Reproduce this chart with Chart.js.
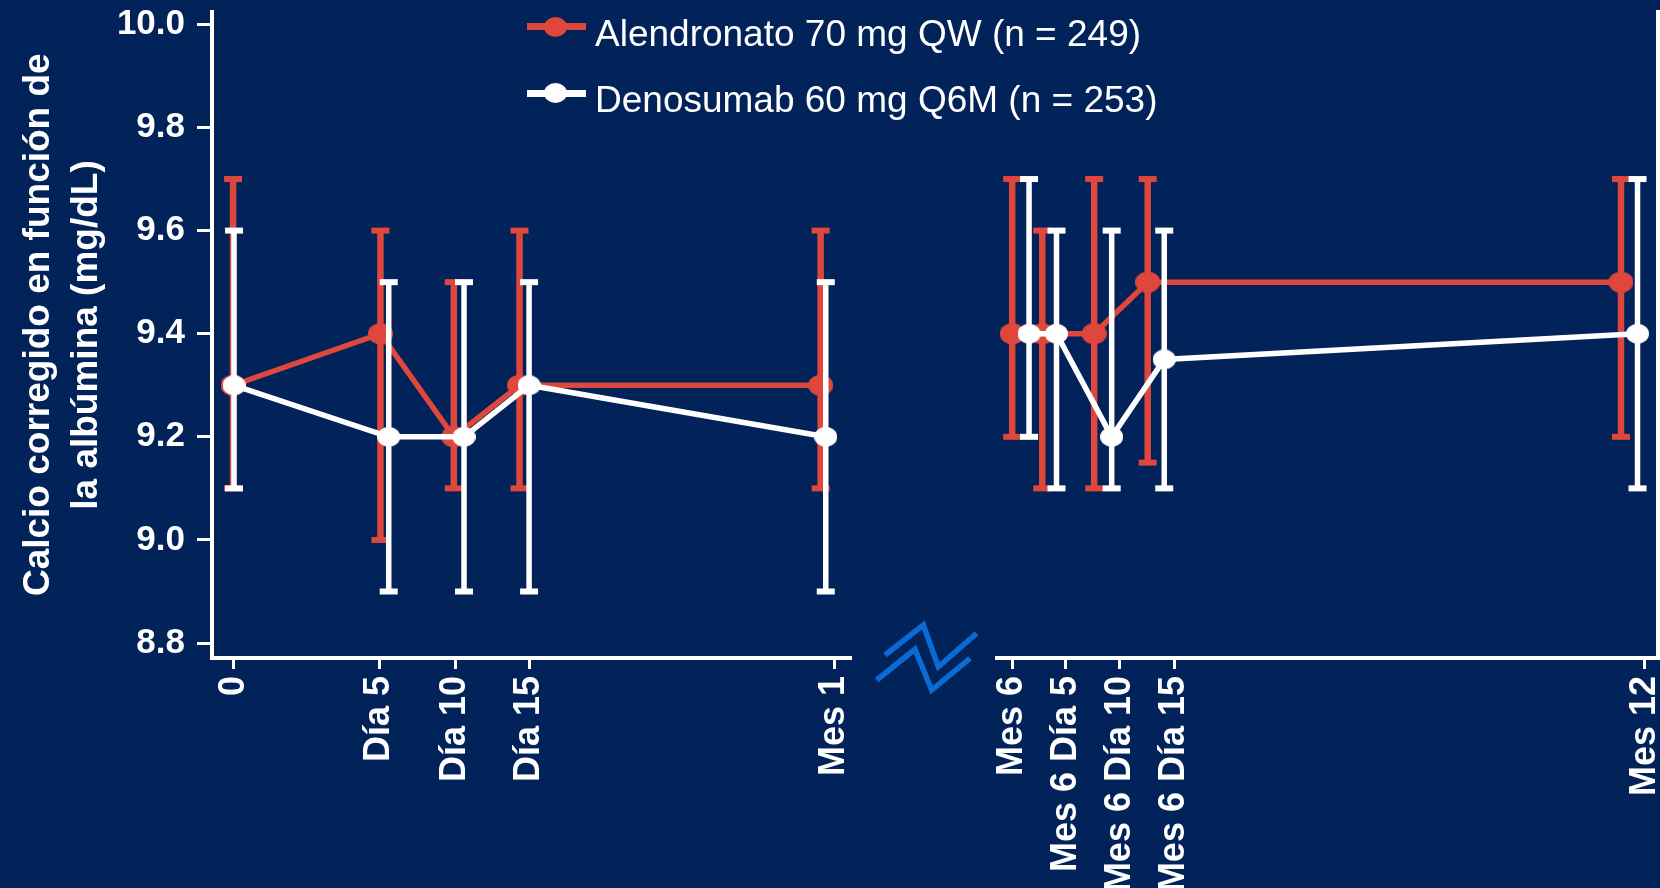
<!DOCTYPE html>
<html>
<head>
<meta charset="utf-8">
<title>Calcio corregido en función de la albúmina</title>
<script src="https://cdn.jsdelivr.net/npm/chart.js@4/dist/chart.umd.min.js"></script>
<style>
  html, body { margin: 0; padding: 0; background: #012359; width: 1660px; height: 888px; overflow: hidden; }
  #wrap { position: relative; width: 1660px; height: 888px; }
  #left { position: absolute; left: 0; top: 0; }
  #right { position: absolute; left: 990px; top: 0; }
  .lg-line { position: absolute; height: 7px; width: 59px; left: 527px; }
  .lg-dot { position: absolute; width: 23px; height: 20px; border-radius: 50%; left: 544px; }
  .lg-text { position: absolute; left: 595px; font-family: 'Liberation Sans', Arial, Helvetica, sans-serif;
             font-size: 37px; line-height: 40px; color: #ffffff; white-space: nowrap; }
</style>
</head>
<body>
<div id="wrap">
  <canvas id="left" width="990" height="888"></canvas>
  <canvas id="right" width="670" height="888"></canvas>

  <div class="lg-line" style="top:23px;background:#df473c"></div>
  <div class="lg-dot" style="top:17px;background:#df473c"></div>
  <div class="lg-text" style="top:14px">Alendronato 70 mg QW (n = 249)</div>

  <div class="lg-line" style="top:90px;background:#ffffff"></div>
  <div class="lg-dot" style="top:83px;background:#ffffff"></div>
  <div class="lg-text" style="top:80px">Denosumab 60 mg Q6M (n = 253)</div>
</div>

<script>
// ---- axis ticks ----
const yTickValues = [8.8, 9.0, 9.2, 9.4, 9.6, 9.8, 10.0];

const leftTickPos = [3.4, 26.2, 38.1, 49.7, 97.5];
const leftTickLabels = ['0', 'Día 5', 'Día 10', 'Día 15', 'Mes 1'];
const rightTickPos = [2.3, 10.4, 18.6, 26.8, 98.0];
const rightTickLabels = ['Mes 6', 'Mes 6 Día 5', 'Mes 6 Día 10', 'Mes 6 Día 15', 'Mes 12'];

// ---- Alendronato 70 mg QW: x position, mean and range (mg/dL) ----
const alnLeftX    = [3.3, 26.4, 37.9, 48.2, 95.4];
const alnLeftMean = [9.3, 9.4, 9.2, 9.3, 9.3];
const alnLeftLow  = [9.1, 9.0, 9.1, 9.1, 9.1];
const alnLeftHigh = [9.7, 9.6, 9.5, 9.6, 9.6];
const alnRightX    = [2.3, 6.85, 14.7, 22.8, 94.4];
const alnRightMean = [9.4, 9.4, 9.4, 9.5, 9.5];
const alnRightLow  = [9.2, 9.1, 9.1, 9.15, 9.2];
const alnRightHigh = [9.7, 9.6, 9.7, 9.7, 9.7];

// ---- Denosumab 60 mg Q6M ----
const denLeftX    = [3.45, 27.7, 39.5, 49.7, 96.2];
const denLeftMean = [9.3, 9.2, 9.2, 9.3, 9.2];
const denLeftLow  = [9.1, 8.9, 8.9, 8.9, 8.9];
const denLeftHigh = [9.6, 9.5, 9.5, 9.5, 9.5];
const denRightX    = [4.85, 9.0, 17.35, 25.3, 96.9];
const denRightMean = [9.4, 9.4, 9.2, 9.35, 9.4];
const denRightLow  = [9.2, 9.1, 9.1, 9.1, 9.1];
const denRightHigh = [9.7, 9.6, 9.6, 9.6, 9.7];

const RED = '#df473c';
const WHITE = '#ffffff';
const FONT = "'Liberation Sans', Arial, Helvetica, sans-serif";
const Y_MIN = 8.771, Y_MAX = 10.024;

function ellipseDot(color, w, h) {
  const c = document.createElement('canvas');
  c.width = w; c.height = h;
  const g = c.getContext('2d');
  g.fillStyle = color;
  g.beginPath();
  g.ellipse(w / 2, h / 2, w / 2, h / 2, 0, 0, Math.PI * 2);
  g.fill();
  return c;
}
const redDot = ellipseDot(RED, 25, 21);
const whiteDot = ellipseDot(WHITE, 23, 20);

function points(xs, mean, low, high) {
  return xs.map((x, i) => ({ x: x, y: mean[i], low: low[i], high: high[i] }));
}

// vertical range bars with caps, drawn just before each series so later series sit on top
const rangeBars = {
  id: 'rangeBars',
  beforeDatasetDraw(chart, args) {
    const ds = chart.data.datasets[args.index];
    const { ctx, scales: { x, y } } = chart;
    ctx.save();
    ctx.strokeStyle = ds.borderColor;
    ctx.fillStyle = ds.borderColor;
    ctx.lineCap = 'butt';
    ds.data.forEach(p => {
      const px = x.getPixelForValue(p.x);
      const top = y.getPixelForValue(p.high);
      const bot = y.getPixelForValue(p.low);
      ctx.lineWidth = ds.rangeWidth;
      ctx.beginPath();
      ctx.moveTo(px, top);
      ctx.lineTo(px, bot);
      ctx.stroke();
      ctx.fillRect(px - 9, top - 3, 18, 6);
      ctx.fillRect(px - 9, bot - 3, 18, 6);
    });
    ctx.restore();
  }
};

// axis break mark between the two panels
const axisBreak = {
  id: 'axisBreak',
  afterDraw(chart) {
    const { ctx, chartArea: { right, bottom } } = chart;
    ctx.save();
    ctx.strokeStyle = '#0b6ad3';
    ctx.lineWidth = 5.5;
    ctx.lineJoin = 'miter';
    const a = [[35, -3], [73.3, -33], [88.3, 8.7], [126.7, -24.7]];
    const b = [[26.7, 22], [65, -8.7], [81.7, 32], [120, 0.3]];
    [a, b].forEach(line => {
      ctx.beginPath();
      line.forEach(([dx, dy], i) => {
        if (i === 0) ctx.moveTo(right + dx, bottom + dy);
        else ctx.lineTo(right + dx, bottom + dy);
      });
      ctx.stroke();
    });
    ctx.restore();
  }
};

function series(label, color, dot, pts, order, rangeWidth) {
  return {
    label: label,
    data: pts,
    borderColor: color,
    backgroundColor: color,
    borderWidth: 5.5,
    pointStyle: dot,
    pointRadius: 11,
    tension: 0,
    order: order,
    rangeWidth: rangeWidth,
    clip: false
  };
}

function xScale(pos, labels) {
  return {
    type: 'linear',
    min: 0,
    max: 100,
    afterBuildTicks: s => { s.ticks = pos.map(v => ({ value: v })); },
    afterFit: s => { s.height = 230; s.paddingLeft = 0; s.paddingRight = 0; },
    ticks: {
      autoSkip: false,
      minRotation: 90,
      maxRotation: 90,
      padding: 7,
      color: WHITE,
      font: { family: FONT, weight: 'bold', size: 36 },
      callback: (v, i) => labels[i]
    },
    grid: { drawOnChartArea: false, color: WHITE, tickLength: 11, tickWidth: 3, lineWidth: 3 },
    border: { display: true, color: WHITE, width: 4 }
  };
}

const common = {
  responsive: false,
  animation: false,
  devicePixelRatio: 1,
  events: [],
  plugins: { legend: { display: false }, tooltip: { enabled: false } }
};

new Chart(document.getElementById('left'), {
  type: 'line',
  data: {
    datasets: [
      series('Alendronato 70 mg QW (n = 249)', RED, redDot, points(alnLeftX, alnLeftMean, alnLeftLow, alnLeftHigh), 2, 6.5),
      series('Denosumab 60 mg Q6M (n = 253)', WHITE, whiteDot, points(denLeftX, denLeftMean, denLeftLow, denLeftHigh), 1, 5.5)
    ]
  },
  options: Object.assign({}, common, {
    layout: { autoPadding: false, padding: { left: 0, top: 12, right: 140, bottom: 0 } },
    scales: {
      x: xScale(leftTickPos, leftTickLabels),
      y: {
        type: 'linear',
        position: 'left',
        min: Y_MIN,
        max: Y_MAX,
        afterBuildTicks: s => { s.ticks = yTickValues.map(v => ({ value: v })); },
        afterFit: s => { s.width = 212; s.paddingTop = 0; s.paddingBottom = 0; },
        ticks: {
          padding: 12,
          color: WHITE,
          font: { family: FONT, weight: 'bold', size: 35 },
          callback: v => Number(v).toFixed(1)
        },
        grid: { drawOnChartArea: false, color: WHITE, tickLength: 15, tickWidth: 3, lineWidth: 3 },
        border: { display: true, color: WHITE, width: 4 },
        title: {
          display: true,
          text: ['  Calcio corregido en función de', 'la albúmina (mg/dL)'],
          color: WHITE,
          font: { family: FONT, weight: 'bold', size: 37, lineHeight: 1.3 },
          padding: { top: 15, bottom: 0 }
        }
      }
    }
  }),
  plugins: [rangeBars, axisBreak]
});

new Chart(document.getElementById('right'), {
  type: 'line',
  data: {
    datasets: [
      series('Alendronato 70 mg QW (n = 249)', RED, redDot, points(alnRightX, alnRightMean, alnRightLow, alnRightHigh), 2, 6.5),
      series('Denosumab 60 mg Q6M (n = 253)', WHITE, whiteDot, points(denRightX, denRightMean, denRightLow, denRightHigh), 1, 5.5)
    ]
  },
  options: Object.assign({}, common, {
    layout: { autoPadding: false, padding: { left: 7, top: 12, right: 0, bottom: 0 } },
    scales: {
      x: xScale(rightTickPos, rightTickLabels),
      y: {
        type: 'linear',
        position: 'right',
        min: Y_MIN,
        max: Y_MAX,
        afterFit: s => { s.width = 2; s.paddingTop = 0; s.paddingBottom = 0; },
        ticks: { display: false },
        grid: { display: false, drawTicks: false },
        border: { display: true, color: WHITE, width: 4 }
      }
    }
  }),
  plugins: [rangeBars]
});
</script>
</body>
</html>
